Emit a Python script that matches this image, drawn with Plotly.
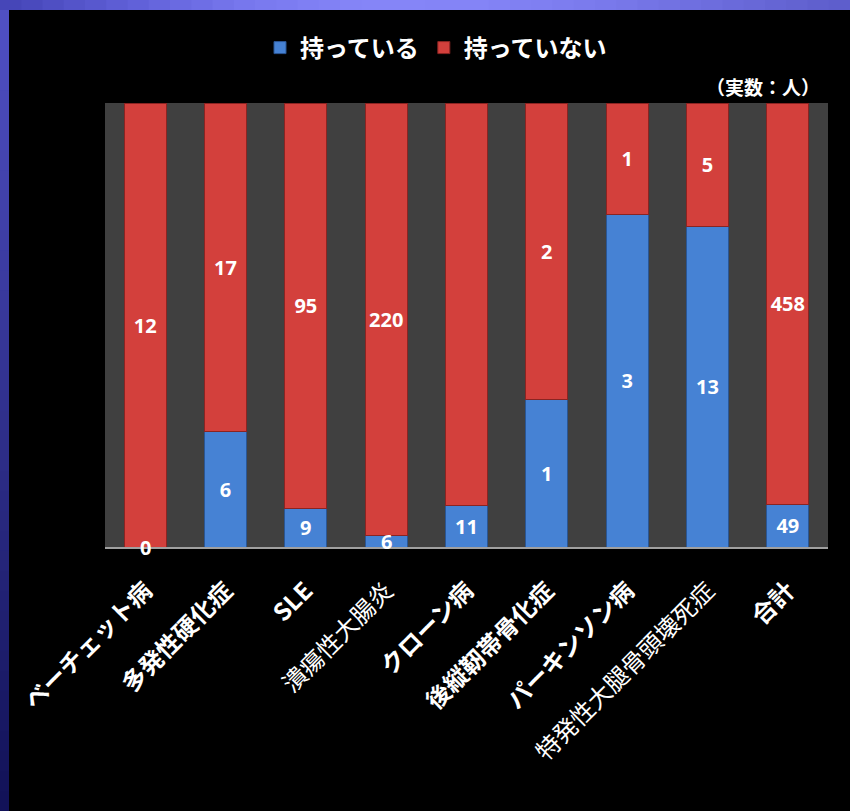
import plotly.graph_objects as go

# Categories (bold flag marks labels drawn in bold face)
categories = ["ベーチェット病", "多発性硬化症", "SLE", "潰瘍性大腸炎", "クローン病",
              "後縦靭帯骨化症", "パーキンソン病", "特発性大腿骨頭壊死症", "合計"]
bold_labels = [True, True, True, False, True, True, True, False, True]

# Counts (people)
have = [0, 6, 9, 6, 11, 1, 3, 13, 49]
not_have = [12, 17, 95, 220, 106, 2, 1, 5, 458]

series_names = ["持っている", "持っていない"]
unit_note = "（実数：人）"

BLUE = "#4682d4"
RED = "#d3403c"
PLOT_BG = "#404040"

W, H = 850, 811
L, R, T, B = 105, 22, 103, 264
pw, ph = W - L - R, H - T - B


def px_x(x):
    return (x - L) / pw


def px_y(y):
    return (H - B - y) / ph


ticktext = [f"<b>{c}</b>" if b else c for c, b in zip(categories, bold_labels)]
label_font = dict(family="Noto Sans", size=20, color="white")

# shares of each bar taken by the lower segment
shares = [h / (h + n) for h, n in zip(have, not_have)]
SMALL = 0.06
have_text = ["" if s < SMALL else str(v) for v, s in zip(have, shares)]

fig = go.Figure()
fig.add_trace(go.Bar(
    x=categories, y=have, name=f"<b>{series_names[0]}</b>",
    marker=dict(color=BLUE, line=dict(color="#2a5694", width=1)),
    text=have_text, textposition="inside", constraintext="none",
    insidetextanchor="middle", cliponaxis=False,
    textfont=label_font, texttemplate="<b>%{text}</b>",
))
fig.add_trace(go.Bar(
    x=categories, y=not_have, name=f"<b>{series_names[1]}</b>",
    marker=dict(color=RED, line=dict(color="#8a2422", width=1)),
    text=[str(v) for v in not_have], textposition="inside", constraintext="none",
    insidetextanchor="middle", cliponaxis=False,
    textfont=label_font, texttemplate="<b>%{text}</b>",
))

shapes = []
# gradient frame along top edge
top_cols = [(0x46, 0x46, 0xb8), (0x60, 0x60, 0xd8), (0x78, 0x78, 0xee), (0x86, 0x86, 0xf8),
            (0x84, 0x84, 0xf6), (0x7a, 0x7a, 0xec), (0x6c, 0x6c, 0xdc), (0x5e, 0x5e, 0xcc)]
n = 40
for i in range(n):
    t = i / (n - 1) * (len(top_cols) - 1)
    k = min(int(t), len(top_cols) - 2)
    f = t - k
    c = tuple(int(top_cols[k][j] * (1 - f) + top_cols[k + 1][j] * f) for j in range(3))
    x0 = W * i / n
    x1 = W * (i + 1) / n + 1
    shapes.append(dict(type="rect", xref="paper", yref="paper",
                       x0=px_x(x0), x1=px_x(x1), y0=px_y(10), y1=px_y(0),
                       fillcolor="rgb(%d,%d,%d)" % c, line=dict(width=0), layer="above"))
# gradient frame along left edge
for i in range(n):
    f = i / (n - 1)
    c0, c1 = (0x50, 0x50, 0xc4), (0x12, 0x12, 0x58)
    c = tuple(int(c0[j] * (1 - f) + c1[j] * f) for j in range(3))
    y0 = 10 + (H - 10) * i / n
    y1 = 10 + (H - 10) * (i + 1) / n + 1
    shapes.append(dict(type="rect", xref="paper", yref="paper",
                       x0=px_x(0), x1=px_x(9), y0=px_y(y1), y1=px_y(y0),
                       fillcolor="rgb(%d,%d,%d)" % c, line=dict(width=0), layer="above"))

annotations = [dict(text="<b>" + unit_note + "</b>", xref="paper", yref="paper",
                    x=px_x(822), y=px_y(87), xanchor="right", yanchor="middle",
                    showarrow=False,
                    font=dict(family="Noto Sans CJK JP", size=19, color="white"))]

# thin or empty lower segments: value drawn on top of both stacks
for cat, v, s in zip(categories, have, shares):
    if s < SMALL:
        annotations.append(dict(text=f"<b>{v}</b>", x=cat, y=s / 2, xref="x", yref="y",
                                showarrow=False, yanchor="middle", font=label_font))

fig.update_layout(
    width=W, height=H,
    margin=dict(l=L, r=R, t=T, b=B, pad=0),
    paper_bgcolor="black", plot_bgcolor=PLOT_BG,
    barmode="stack", barnorm="fraction", bargap=0.48,
    showlegend=True,
    legend=dict(orientation="h", x=px_x(436), y=px_y(48), xanchor="center", yanchor="middle",
                font=dict(family="Noto Sans CJK JP", size=24, color="white"),
                bgcolor="rgba(0,0,0,0)", traceorder="normal", itemwidth=30),
    xaxis=dict(tickmode="array", tickvals=categories, ticktext=ticktext, tickangle=-45,
               tickfont=dict(family="Noto Sans CJK JP", size=24, color="white"),
               ticklabelstandoff=18,
               showline=True, linecolor="#a0a0a0", linewidth=2, ticks="",
               showgrid=False, zeroline=False, fixedrange=True),
    yaxis=dict(range=[0, 1], visible=False, showgrid=False, zeroline=False, fixedrange=True),
    shapes=shapes, annotations=annotations,
)
fig.update_traces(hoverinfo="skip")

fig.write_html("out.html")
